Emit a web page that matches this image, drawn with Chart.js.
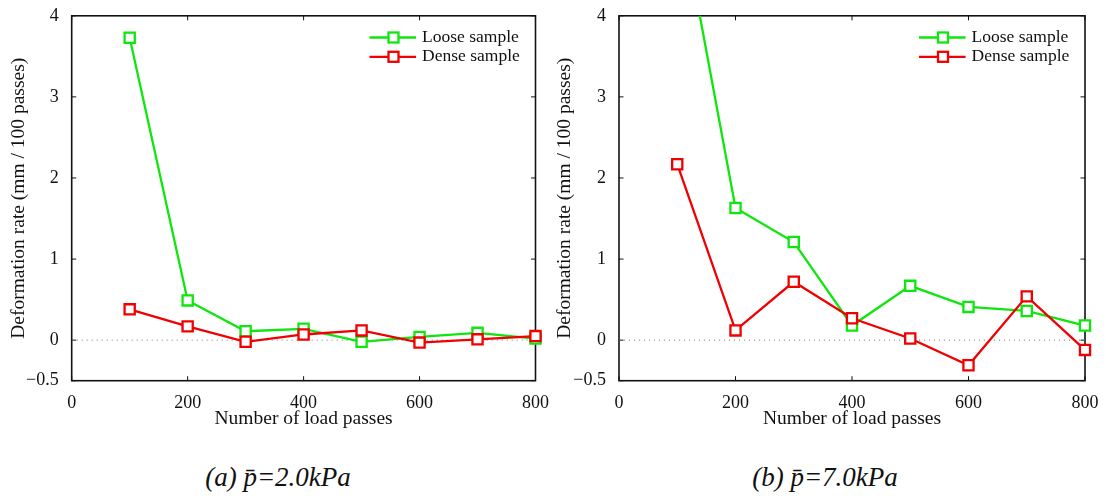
<!DOCTYPE html>
<html>
<head>
<meta charset="utf-8">
<script src="https://cdn.jsdelivr.net/npm/chart.js@4.4.1/dist/chart.umd.min.js"></script>
<style>
  body { margin: 0; background: #fff; }
  #wrap { position: relative; width: 1106px; height: 499px; }
  canvas { position: absolute; top: 0; }
  .cap {
    position: absolute; top: 462px; width: 300px; text-align: center;
    font-family: 'Liberation Serif', 'Times New Roman', serif;
    font-style: italic; font-size: 27px; line-height: 30px; color: #111;
  }
</style>
</head>
<body>
<div id="wrap">
  <canvas id="chartA" width="553" height="440" style="left:0"></canvas>
  <canvas id="chartB" width="553" height="440" style="left:553px"></canvas>
  <div class="cap" id="capA" style="left:128px"></div>
  <div class="cap" id="capB" style="left:675px"></div>
</div>
<script>
// data
const passes = [100, 200, 300, 400, 500, 600, 700, 800];
const looseA = [3.73, 0.49, 0.11, 0.14, -0.02, 0.04, 0.09, 0.02];
const denseA = [0.38, 0.17, -0.02, 0.07, 0.12, -0.03, 0.01, 0.05];
const looseB = [5.5, 1.63, 1.21, 0.18, 0.67, 0.41, 0.36, 0.18];
const denseB = [2.17, 0.12, 0.72, 0.27, 0.02, -0.31, 0.54, -0.12];

const seriesNames = ['Loose sample', 'Dense sample'];
const seriesColors = ['#0ee60e', '#f00000'];
const xTicks = [0, 200, 400, 600, 800];
const yTicks = [-0.5, 0, 1, 2, 3, 4];
const xTitle = 'Number of load passes';
const yTitle = 'Deformation rate (mm / 100 passes)';
const captions = ['(a) p\u0304=2.0kPa', '(b) p\u0304=7.0kPa'];

const serif = "'Liberation Serif', 'Times New Roman', serif";
Chart.defaults.font.family = serif;
Chart.defaults.color = '#111';

document.getElementById('capA').textContent = captions[0];
document.getElementById('capB').textContent = captions[1];

function toPoints(ys) {
  return passes.map((x, i) => ({x: x, y: ys[i]}));
}

// box round the plot and matlab style ticks pointing inward
const framePlugin = {
  id: 'frame',
  beforeDatasetsDraw(chart) {
    const {ctx, chartArea: a, scales} = chart;
    const len = 4.5;
    ctx.save();
    ctx.strokeStyle = '#111';
    ctx.lineWidth = 1;
    ctx.beginPath();
    xTicks.forEach(v => {
      const px = scales.x.getPixelForValue(v);
      ctx.moveTo(px, a.bottom); ctx.lineTo(px, a.bottom - len);
      ctx.moveTo(px, a.top); ctx.lineTo(px, a.top + len);
    });
    yTicks.forEach(v => {
      const py = scales.y.getPixelForValue(v);
      ctx.moveTo(a.left, py); ctx.lineTo(a.left + len, py);
      ctx.moveTo(a.right, py); ctx.lineTo(a.right - len, py);
    });
    ctx.stroke();
    ctx.lineWidth = 1.6;
    ctx.strokeRect(a.left, a.top, a.right - a.left, a.bottom - a.top);
    ctx.restore();
  }
};

// legend drawn inside the top right corner
const legendPlugin = {
  id: 'boxLegend',
  afterDraw(chart) {
    const {ctx, chartArea: a} = chart;
    ctx.save();
    ctx.font = '17.5px ' + serif;
    ctx.textBaseline = 'middle';
    ctx.fillStyle = '#111';
    const rows = [a.top + 21.7, a.top + 41];
    seriesNames.forEach((name, i) => {
      const y = rows[i];
      const x0 = a.right - 166, x1 = a.right - 119.4, xm = a.right - 142;
      ctx.strokeStyle = seriesColors[i];
      ctx.lineWidth = 2.3;
      ctx.beginPath();
      ctx.moveTo(x0, y); ctx.lineTo(x1, y);
      ctx.stroke();
      ctx.fillStyle = '#fff';
      ctx.fillRect(xm - 5, y - 5, 10, 10);
      ctx.strokeRect(xm - 5, y - 5, 10, 10);
      ctx.fillStyle = '#111';
      ctx.fillText(name, a.right - 113.4, y);
    });
    ctx.restore();
  }
};

function makeChart(id, loose, dense, yAxisWidth, padRight, yTitlePad) {
  const clip = {left: 12, right: 12, top: 0, bottom: 12};
  const line = (label, ys, color, order) => ({
    label: label,
    data: toPoints(ys),
    borderColor: color,
    borderWidth: 2.3,
    pointStyle: 'rect',
    pointRadius: 7.2,
    pointBorderWidth: 2.3,
    pointBorderColor: color,
    pointBackgroundColor: '#fff',
    tension: 0,
    clip: clip,
    order: order
  });
  return new Chart(document.getElementById(id), {
    type: 'line',
    data: {
      datasets: [
        line(seriesNames[0], loose, seriesColors[0], 1),
        line(seriesNames[1], dense, seriesColors[1], 0),
        {
          label: 'zero',
          data: [{x: xTicks[0], y: 0}, {x: xTicks[xTicks.length - 1], y: 0}],
          borderColor: '#777',
          borderWidth: 1,
          borderDash: [1, 4],
          pointRadius: 0,
          order: 2
        }
      ]
    },
    options: {
      responsive: false,
      animation: false,
      layout: {padding: {left: 0, right: padRight, top: 14, bottom: 9.3}},
      plugins: {legend: {display: false}, tooltip: {enabled: false}},
      scales: {
        x: {
          type: 'linear',
          min: xTicks[0],
          max: xTicks[xTicks.length - 1],
          grid: {display: false},
          border: {display: false},
          afterBuildTicks: s => { s.ticks = xTicks.map(v => ({value: v})); },
          afterFit: s => { s.height = 50; },
          ticks: {font: {size: 18}, padding: 4, color: '#111'},
          title: {display: true, text: xTitle, font: {size: 19.5}, padding: {top: 0, bottom: 0}, color: '#111'}
        },
        y: {
          min: yTicks[0],
          max: yTicks[yTicks.length - 1],
          grid: {display: false},
          border: {display: false},
          afterBuildTicks: s => { s.ticks = yTicks.map(v => ({value: v})); },
          afterFit: s => { s.width = yAxisWidth; },
          ticks: {
            font: {size: 18}, padding: 5, color: '#111',
            callback: v => (v < 0 ? '\u2212' + Math.abs(v) : String(v))
          },
          title: {display: true, text: yTitle, font: {size: 19.5}, padding: {top: yTitlePad, bottom: 0}, color: '#111'}
        }
      }
    },
    plugins: [framePlugin, legendPlugin]
  });
}

makeChart('chartA', looseA, denseA, 71.7, 15.3, 7);
makeChart('chartB', looseB, denseB, 66, 21, 0);
</script>
</body>
</html>
